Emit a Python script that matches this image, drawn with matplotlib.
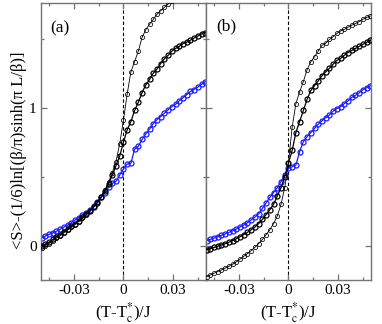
import matplotlib
matplotlib.use("Agg")
import matplotlib.pyplot as plt
from matplotlib.ticker import MultipleLocator

plt.rcParams['font.family'] = ['Liberation Serif', 'DejaVu Serif']
plt.rcParams['mathtext.fontset'] = 'stix'

# temperature grid (T - Tc*)/J
T = [-0.0495, -0.04725, -0.045, -0.04275, -0.0405, -0.03825, -0.036, -0.03375,
     -0.0315, -0.02925, -0.027, -0.02475, -0.0225, -0.02025, -0.018, -0.01575,
     -0.0135, -0.01125, -0.009, -0.00675, -0.0045, -0.00225, 0.0, 0.00225,
     0.0045, 0.00675, 0.009, 0.01125, 0.0135, 0.01575, 0.018, 0.02025,
     0.0225, 0.02475, 0.027, 0.02925, 0.0315, 0.03375, 0.036, 0.03825,
     0.0405, 0.04275, 0.045, 0.04725, 0.0495]

# panel (a)
a_thin = [-0.015, 0.0, 0.015, 0.035, 0.055, 0.072, 0.092, 0.112, 0.132, 0.153,
          0.175, 0.198, 0.222, 0.248, 0.28, 0.315, 0.355, 0.405, 0.46, 0.53,
          0.61, 0.74, 0.91, 1.10, 1.26, 1.335, 1.41, 1.51, 1.565, 1.605,
          1.64, 1.678, 1.703, 1.728, 1.752, 1.775]
a_thick = [0.0, 0.012, 0.025, 0.045, 0.065, 0.08, 0.10, 0.12, 0.14, 0.16,
           0.182, 0.205, 0.228, 0.25, 0.28, 0.31, 0.35, 0.395, 0.45, 0.51,
           0.58, 0.65, 0.75, 0.84, 0.90, 0.98, 1.04, 1.11, 1.165, 1.205,
           1.25, 1.28, 1.32, 1.355, 1.38, 1.41, 1.43, 1.445, 1.465, 1.475,
           1.49, 1.505, 1.52, 1.535, 1.545]
a_blue = [0.054, 0.070, 0.082, 0.093, 0.104, 0.119, 0.134, 0.148, 0.166, 0.186,
          0.204, 0.222, 0.240, 0.259, 0.285, 0.320, 0.350, 0.385, 0.425, 0.452,
          0.466, 0.512, 0.556, 0.592, 0.597, 0.700, 0.720, 0.770, 0.81, 0.845,
          0.885, 0.913, 0.936, 0.960, 0.985, 1.008, 1.025, 1.050, 1.072, 1.095,
          1.118, 1.132, 1.150, 1.170, 1.190]

# panel (b)
b_thin = [-0.225, -0.213, -0.200, -0.188, -0.176, -0.163, -0.150, -0.135, -0.118, -0.098,
          -0.078, -0.058, -0.036, -0.012, 0.015, 0.045, 0.08, 0.115, 0.16, 0.215,
          0.30, 0.42, 0.60, 0.86, 1.03, 1.115, 1.19, 1.275, 1.333, 1.37,
          1.41, 1.452, 1.467, 1.495, 1.514, 1.539, 1.556, 1.568, 1.583, 1.598,
          1.611, 1.624, 1.641, 1.655, 1.665]
b_thick = [-0.03, -0.022, -0.013, -0.004, 0.005, 0.014, 0.025, 0.037, 0.05, 0.065,
           0.08, 0.097, 0.115, 0.135, 0.16, 0.19, 0.225, 0.26, 0.30, 0.36,
           0.42, 0.50, 0.60, 0.69, 0.82, 0.90, 0.98, 1.06, 1.125, 1.16,
           1.195, 1.232, 1.26, 1.285, 1.315, 1.343, 1.357, 1.38, 1.40, 1.415,
           1.43, 1.445, 1.46, 1.474, 1.488]
b_blue = [0.036, 0.045, 0.055, 0.065, 0.075, 0.085, 0.096, 0.108, 0.121, 0.135,
          0.15, 0.167, 0.186, 0.207, 0.23, 0.27, 0.31, 0.35, 0.385, 0.42,
          0.465, 0.51, 0.56, 0.573, 0.585, 0.68, 0.755, 0.79, 0.82, 0.85,
          0.88, 0.905, 0.928, 0.947, 0.975, 0.993, 1.007, 1.03, 1.05, 1.075,
          1.09, 1.108, 1.13, 1.145, 1.16]

panels = [("(a)", a_thin, a_thick, a_blue), ("(b)", b_thin, b_thick, b_blue)]

fig = plt.figure(figsize=(3.82, 3.24), dpi=100)
W, H = 382.0, 324.0
lefts = [40.7, 205.7]
top, bottom = 3.3, 280.0
spine_c = '0.45'
label_pos = [(0.056, 0.911), (0.062, 0.918)]

for k, (lab, thin, thick, blue) in enumerate(panels):
    ax = fig.add_axes([lefts[k] / W, 1 - bottom / H, 165.5 / W, (bottom - top) / H])
    ax.axvline(0, color='black', lw=0.8, ls=(0, (3, 2)), zorder=1)
    ax.plot(T[:len(blue)], blue, '-o', color='#1a1aff', lw=0.9, ms=3.6,
            mfc='none', mew=0.9, zorder=2)
    ax.plot(T[:len(thick)], thick, '-o', color='black', lw=0.9, ms=3.6,
            mfc='none', mew=0.9, zorder=3)
    ax.plot(T[:len(thin)], thin, '-o', color='black', lw=0.6, ms=3.0,
            mfc='none', mew=0.55, zorder=4)
    ax.set_xlim(-0.05, 0.05)
    ax.set_ylim(-0.249, 1.757)
    ax.xaxis.set_minor_locator(MultipleLocator(0.015))
    ax.yaxis.set_minor_locator(MultipleLocator(0.5))
    ax.set_xticks([-0.03, 0, 0.03])
    ax.set_xticklabels(['-0.03', '0', '0.03'])
    ax.tick_params(which='both', direction='in', top=True, right=True,
                   color=spine_c, labelsize=11, pad=3)
    ax.tick_params(which='major', length=4.5, width=0.9)
    ax.tick_params(which='minor', length=2.2, width=0.9)
    for s in ax.spines.values():
        s.set_color(spine_c)
        s.set_linewidth(1.0)
    ax.set_yticks([0, 1])
    if k == 0:
        ax.set_yticklabels(['0', '1'])
        ax.set_ylabel(r'<S>-(1/6)ln[(β/π)sinh(π L/β)]', fontsize=12)
        ax.yaxis.set_label_coords(-0.085, 0.47)
    else:
        ax.set_yticklabels([])
    ax.set_xlabel(r'(T-T$_\mathrm{c}^{*}$)/J', fontsize=12, labelpad=2)
    ax.text(label_pos[k][0], label_pos[k][1], lab, transform=ax.transAxes,
            fontsize=12.5, ha='left', va='center')

fig.savefig('out.png', dpi=100)
